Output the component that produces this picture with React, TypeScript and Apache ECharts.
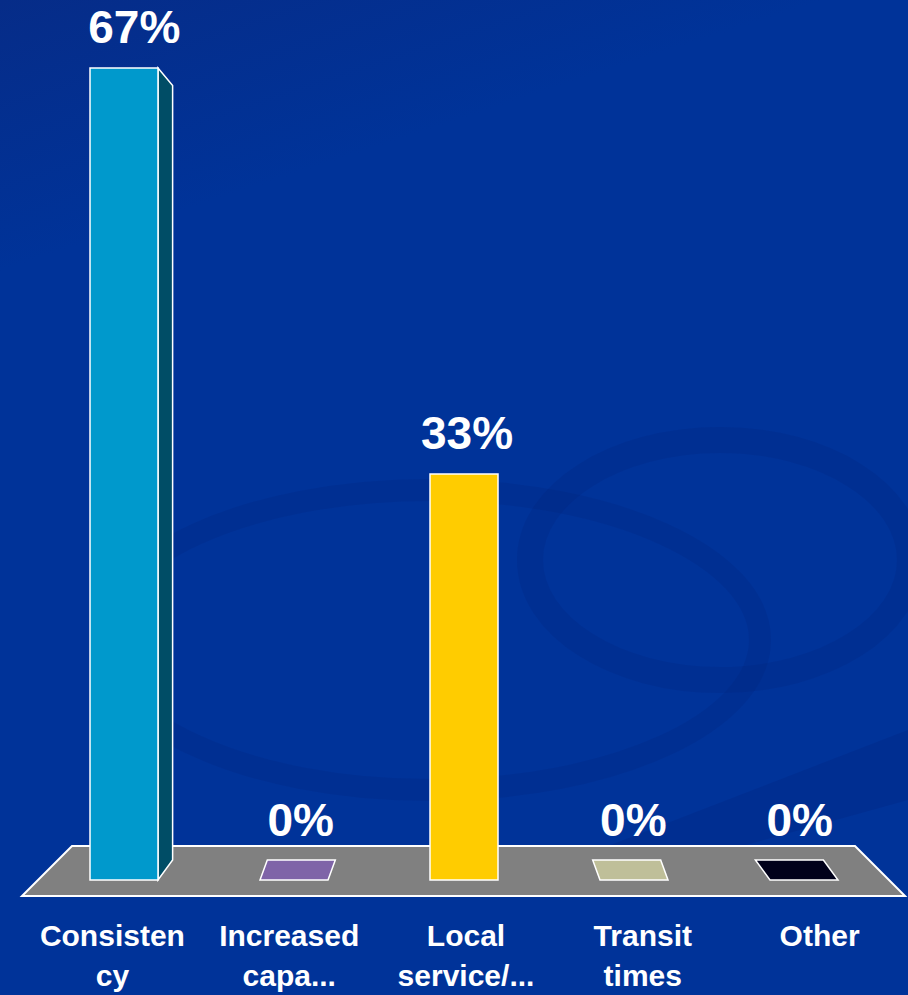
import React, { useEffect, useRef } from "react";
import * as echarts from "echarts";

const categories = ["Consisten\ncy", "Increased\ncapa...", "Local\nservice/...", "Transit\ntimes", "Other"];
const values = [66.67, 0, 33.33, 0, 0];
const valueLabels = ["67%", "0%", "33%", "0%", "0%"];
const barColors = ["#0099CC", "#7F64A8", "#FFCC00", "#BFBF99", "#00001A"];
const sideColors = ["#004D66", "#4B3A66", "#997A00", "#77775F", "#000000"];

const FONT = '"Liberation Sans", Arial, Helvetica, sans-serif';

export default function App() {
  const ref = useRef<HTMLDivElement>(null);
  useEffect(() => {
    if (!ref.current) return;
    const chart = echarts.init(ref.current, undefined, { renderer: "svg" });
    const option: any = {
      animation: false,
      backgroundColor: new echarts.graphic.LinearGradient(0, 0, 0.3, 1, [
        { offset: 0, color: "#062C88" },
        { offset: 0.25, color: "#003399" },
        { offset: 1, color: "#003399" },
      ]),
      graphic: [
        {
          type: "ellipse",
          z: -5,
          shape: { cx: 430, cy: 640, rx: 330, ry: 150 },
          style: { fill: "none", stroke: "rgba(0,28,110,0.16)", lineWidth: 22 },
        },
        {
          type: "ellipse",
          z: -5,
          shape: { cx: 720, cy: 560, rx: 190, ry: 120 },
          style: { fill: "none", stroke: "rgba(0,28,110,0.16)", lineWidth: 26 },
        },
        {
          type: "polygon",
          z: -5,
          shape: { points: [[520, 880], [908, 730], [908, 800], [620, 880]] },
          style: { fill: "rgba(0,28,110,0.18)" },
        },
        {
          type: "polygon",
          z: 0,
          shape: { points: [[72, 846], [855, 846], [905, 896], [22, 896]] },
          style: { fill: "#808080", stroke: "#FFFFFF", lineWidth: 2 },
        },
      ],
      grid: [
        { left: 39, right: 19, top: 27.4, bottom: 115 },
        { left: 24, right: 0, top: 880, bottom: 88 },
      ],
      xAxis: [
        {
          type: "category",
          gridIndex: 0,
          data: categories,
          show: false,
        },
        {
          type: "category",
          gridIndex: 1,
          data: categories,
          axisLine: { show: false },
          axisTick: { show: false },
          axisLabel: {
            interval: 0,
            margin: 10,
            color: "#FFFFFF",
            fontSize: 30,
            fontWeight: "bold",
            fontFamily: FONT,
            lineHeight: 40,
          },
        },
      ],
      yAxis: [
        { type: "value", gridIndex: 0, min: 0, max: 70, show: false },
        { type: "value", gridIndex: 1, show: false },
      ],
      series: [
        {
          type: "custom",
          xAxisIndex: 0,
          yAxisIndex: 0,
          z: 3,
          data: values.map((v, i) => [i, v]),
          encode: { x: 0, y: 1 },
          renderItem: (params: any, api: any) => {
            const i = api.value(0);
            const v = api.value(1);
            const base = api.coord([i, 0]);
            const top = api.coord([i, v]);
            const cs = params.coordSys;
            const vp = cs.x + cs.width / 2;
            const band = api.size([1, 0])[0];
            const w = band * 0.4;
            const cx = base[0];
            const s = (vp - cx) * 0.043;
            const depth = 20;
            const x0 = cx - w / 2;
            const x1 = cx + w / 2;
            const children: any[] = [];
            const stroke = { stroke: "#FFFFFF", lineWidth: 1.5 };
            let labelY;
            if (v > 0) {
              if (Math.abs(s) > 2) {
                const xe = s > 0 ? x1 : x0;
                children.push({
                  type: "polygon",
                  shape: {
                    points: [
                      [xe, top[1]],
                      [xe + s, top[1] + Math.abs(s) * 1.2],
                      [xe + s, base[1] - depth],
                      [xe, base[1]],
                    ],
                  },
                  style: { fill: sideColors[i], ...stroke },
                });
              }
              children.push({
                type: "rect",
                shape: { x: x0, y: top[1], width: w, height: base[1] - top[1] },
                style: { fill: barColors[i], ...stroke },
              });
              labelY = top[1] - 41;
            } else {
              children.push({
                type: "polygon",
                shape: {
                  points: [
                    [x0, base[1]],
                    [x1, base[1]],
                    [x1 + s, base[1] - depth],
                    [x0 + s, base[1] - depth],
                  ],
                },
                style: { fill: barColors[i], ...stroke },
              });
              labelY = base[1] - depth - 40;
            }
            children.push({
              type: "text",
              x: cx + s * 0.5 + 3,
              y: labelY,
              style: {
                text: valueLabels[i],
                textAlign: "center",
                textVerticalAlign: "middle",
                fill: "#FFFFFF",
                fontSize: 46,
                fontWeight: "bold",
                fontFamily: FONT,
              },
            });
            return { type: "group", children };
          },
        },
      ],
    };
    chart.setOption(option);
    return () => chart.dispose();
  }, []);
  return (
    <div
      ref={ref}
      style={{ position: "fixed", left: 0, top: 0, width: 908, height: 995 }}
    />
  );
}
